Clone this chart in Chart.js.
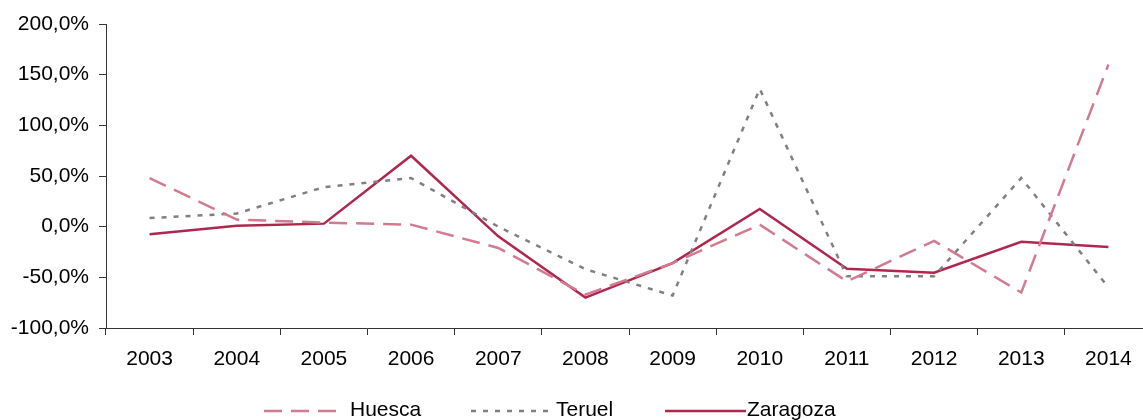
<!DOCTYPE html>
<html>
<head>
<meta charset="utf-8">
<script src="https://cdn.jsdelivr.net/npm/chart.js@4"></script>
<style>
  html, body { margin: 0; padding: 0; background: #fff; overflow: hidden; }
  #wrap { width: 1152px; height: 420px; }
</style>
</head>
<body>
<div id="wrap"><canvas id="chart"></canvas></div>
<script>
// ===== Data =====
const years = ["2003", "2004", "2005", "2006", "2007", "2008", "2009", "2010", "2011", "2012", "2013", "2014"];
const huesca = [48, 7, 4, 2, -21, -67, -36, 2, -54, -14, -65, 160];
const teruel = [8.5, 13, 39, 48, 0, -42, -68, 136, -49, -49, 48, -60];
const zaragoza = [-7.5, 1, 3, 70, -9.5, -70, -36, 17.5, -41.5, -45.5, -15, -20];
const yTicks = [-100, -50, 0, 50, 100, 150, 200];

const FONT = "'Liberation Sans', Arial, sans-serif";

// ===== Legend drawn under the axis (cut by the bottom edge, as in the original) =====
const lineLegend = {
  id: "lineLegend",
  afterDraw(chart) {
    const ctx = chart.ctx;
    const items = [[264, 337, 350], [471, 554, 556], [665, 746, 747]];
    const y = 411;
    ctx.save();
    chart.data.datasets.forEach((ds, i) => {
      const [x1, x2, tx] = items[i];
      ctx.beginPath();
      ctx.strokeStyle = ds.borderColor;
      ctx.lineWidth = ds.borderWidth;
      ctx.setLineDash(ds.borderDash || []);
      ctx.moveTo(x1, y);
      ctx.lineTo(x2, y);
      ctx.stroke();
      ctx.setLineDash([]);
      ctx.fillStyle = "#000";
      ctx.font = "21px " + FONT;
      ctx.textBaseline = "alphabetic";
      ctx.fillText(ds.label, tx, 416);
    });
    ctx.restore();
  }
};

new Chart(document.getElementById("chart"), {
  type: "line",
  data: {
    labels: years,
    datasets: [
      { label: "Huesca", data: huesca, borderColor: "#D27A90", borderWidth: 2.5, borderDash: [18, 9] },
      { label: "Teruel", data: teruel, borderColor: "#808080", borderWidth: 2.5, borderDash: [5, 7] },
      { label: "Zaragoza", data: zaragoza, borderColor: "#B0274D", borderWidth: 2.5 }
    ]
  },
  options: {
    responsive: true,
    maintainAspectRatio: false,
    animation: false,
    layout: { padding: { top: 24, bottom: 32, left: 0, right: 0 } },
    elements: { point: { radius: 0 }, line: { tension: 0 } },
    plugins: { legend: { display: false }, tooltip: { enabled: false } },
    scales: {
      x: {
        offset: true,
        grid: { offset: true, drawOnChartArea: false, tickLength: 7, color: "#333" },
        border: { color: "#333", width: 1 },
        ticks: { color: "#000", font: { family: FONT, size: 21 }, padding: 12, maxRotation: 0 },
        afterFit: s => { s.height = 60; }
      },
      y: {
        min: -100,
        max: 200,
        afterBuildTicks: s => { s.ticks = yTicks.map(v => ({ value: v })); },
        grid: { drawOnChartArea: false, tickLength: 7, color: "#333" },
        border: { color: "#333", width: 1 },
        ticks: {
          color: "#000",
          font: { family: FONT, size: 21 },
          padding: 10,
          callback: v => v.toFixed(1).replace(".", ",") + "%"
        },
        afterFit: s => { s.width = 106; }
      }
    }
  },
  plugins: [lineLegend]
});
</script>
</body>
</html>
